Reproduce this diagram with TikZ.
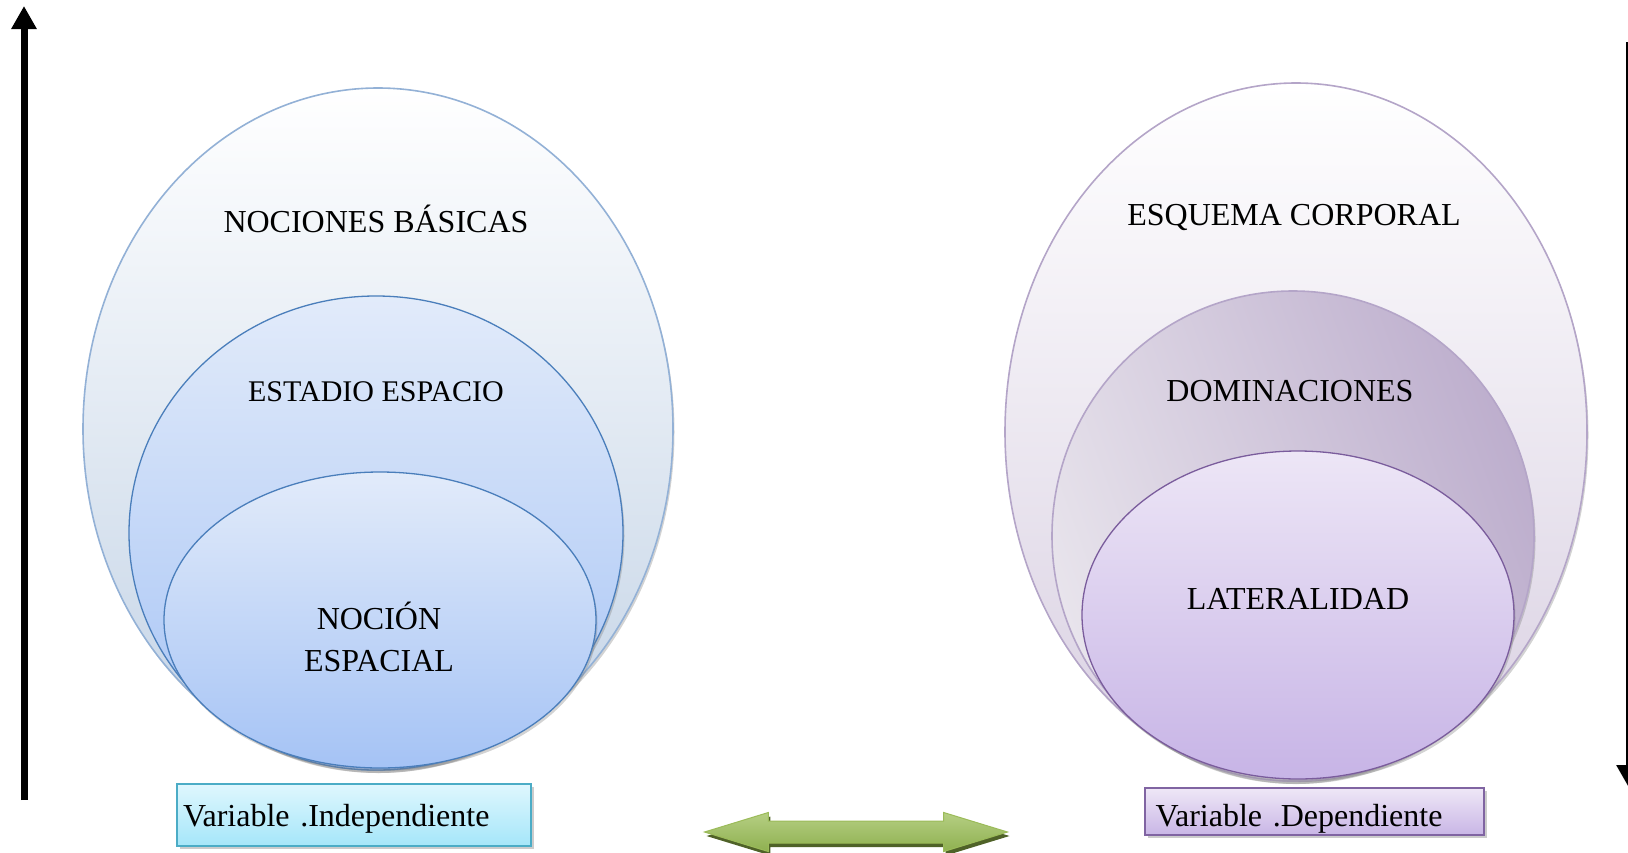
\documentclass[tikz,border=0pt]{standalone}
\usepackage{fontspec}
\setmainfont{Liberation Serif}
\usetikzlibrary{positioning}
\usetikzlibrary{arrows.meta}
\usetikzlibrary{shapes, shapes.arrows}
\usetikzlibrary{shadows}

\definecolor{blue_edge_light}{HTML}{93B1D6}
\definecolor{blue_edge}{HTML}{4A7EBB}
\definecolor{blue_low_outer}{HTML}{C3D3E6}
\definecolor{blue_top}{HTML}{E2EBFA}
\definecolor{blue_low}{HTML}{A5C3F5}
\definecolor{lila_edge_light}{HTML}{B4A5C8}
\definecolor{lila_edge}{HTML}{7A5C9C}
\definecolor{lila_low_outer}{HTML}{D9D0E2}
\definecolor{lila_mid_light}{HTML}{E8E4EC}
\definecolor{lila_mid_dark}{HTML}{BDAECD}
\definecolor{lila_top}{HTML}{EDE6F6}
\definecolor{lila_low}{HTML}{C7B4E6}
\definecolor{cyan_edge}{HTML}{4BACC6}
\definecolor{cyan_top}{HTML}{DFF7FE}
\definecolor{cyan_low}{HTML}{A5E6F9}
\definecolor{violet_edge}{HTML}{8064A2}
\definecolor{violet_top}{HTML}{EFE8F7}
\definecolor{violet_low}{HTML}{C9B6E6}
\definecolor{green_edge}{HTML}{9BBB59}
\definecolor{green_top}{HTML}{B5CF83}
\definecolor{green_low}{HTML}{8FB050}
\definecolor{green_shadow}{HTML}{4F6228}

\tikzset{
        ovalnode/.style={ellipse, inner sep=0pt, drop shadow={shadow xshift=1.5pt, shadow yshift=-3pt, opacity=0.35}},
        % Left ellipses (blue)
        oval_blue_outer/.style={ovalnode, draw=blue_edge_light, line width=1.6pt, top color=white, bottom color=blue_low_outer},
        oval_blue/.style={ovalnode, draw=blue_edge, line width=1.3pt, top color=blue_top, bottom color=blue_low},
        % Right ellipses (purple)
        oval_lila_outer/.style={ovalnode, draw=lila_edge_light, line width=1.6pt, top color=white, bottom color=lila_low_outer},
        oval_lila_mid/.style={ovalnode, draw=lila_edge_light, line width=1.6pt, left color=lila_mid_light, right color=lila_mid_dark, shading angle=110},
        oval_lila/.style={ovalnode, draw=lila_edge, line width=1.3pt, top color=lila_top, bottom color=lila_low},
        % Texts
        caption/.style={align=center, inner sep=0pt, font=\fontsize{32}{42}\selectfont},
        % Variable boxes
        varbox/.style={rectangle, line width=2pt, align=left, inner ysep=0pt, font=\fontsize{32}{38}\selectfont,
                drop shadow={shadow xshift=3pt, shadow yshift=-3pt, opacity=0.4}},
        % Axis arrows
        axis_arrow/.style={line width=7pt, -{Triangle[width=24pt, length=23pt]}}
}

\begin{document}
\begin{tikzpicture}[
            x=1pt, y=-1pt
        ]
            \useasboundingbox (0,0) rectangle (1628,852);

            % left group
            \node[oval_blue_outer, minimum width=590pt, minimum height=682pt] (basicas) at (378,429) {};
            \node[oval_blue, minimum width=494pt, minimum height=474pt] (estadio) at (376,533) {};
            \node[oval_blue, minimum width=432pt, minimum height=296pt] (nocion) at (380,620) {};
            \node[caption] (txt_basicas) at (376,219) {NOCIONES BÁSICAS};
            \node[caption, font=\fontsize{30}{40}\selectfont] (txt_estadio) at (376,392) {ESTADIO ESPACIO};
            \node[caption] (txt_nocion) at (379,637) {NOCIÓN\\ESPACIAL};

            % right group
            \node[oval_lila_outer, minimum width=582pt, minimum height=698pt] (esquema) at (1296,432) {};
            \node[oval_lila_mid, minimum width=482pt, minimum height=490pt] (dominaciones) at (1293,536) {};
            \node[oval_lila, minimum width=432pt, minimum height=328pt] (lateralidad) at (1298,615) {};
            \node[caption] (txt_esquema) at (1294,217) {ESQUEMA CORPORAL};
            \node[caption] (txt_dominaciones) at (1290,391) {DOMINACIONES};
            \node[caption] (txt_lateralidad) at (1298,599) {LATERALIDAD};

            % variable boxes
            \node[varbox, draw=cyan_edge, top color=cyan_top, bottom color=cyan_low,
                  minimum width=354pt, minimum height=62pt, text width=342pt, inner xsep=6pt,
                  text height=30pt, text depth=7pt] (indep) at (354,815) {Variable .Independiente};
            \node[varbox, draw=violet_edge, top color=violet_top, bottom color=violet_low,
                  minimum width=339pt, minimum height=47pt, text width=317pt, inner xsep=11pt,
                  text height=37pt, text depth=7pt] (dep) at (1314,811) {Variable .Dependiente};

            % relation arrow
            \node[double arrow, draw=green_edge, line width=1pt, top color=green_top, bottom color=green_low,
                  minimum height=303pt, minimum width=38pt, inner xsep=0pt, inner ysep=10.5pt,
                  double arrow head extend=8.5pt, double arrow tip angle=34,
                  drop shadow={shadow xshift=2pt, shadow yshift=-4pt, fill=green_shadow, opacity=1}] (relacion) at (856,832) {};

            % side arrows
            \coordinate (left_low) at (24,800);
            \coordinate (left_high) at (24,6);
            \coordinate (right_high) at (1629,42);
            \coordinate (right_low) at (1629,788);
            \draw[axis_arrow] (left_low) -- (left_high);
            \draw[axis_arrow] (right_high) -- (right_low);
        \end{tikzpicture}
\end{document}
